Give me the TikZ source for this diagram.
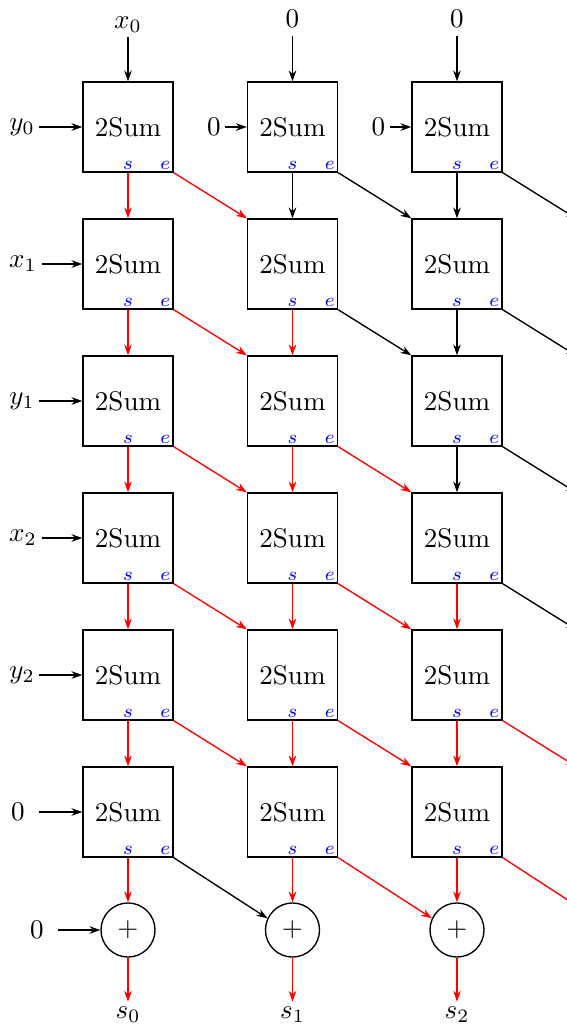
\documentclass[tikz,border=0pt]{standalone}
\usetikzlibrary{arrows.meta}
\begin{document}
\begin{tikzpicture}[x=0.37pt,y=-0.37pt,line width=0.5pt,
  >={Stealth[length=4pt,width=2.8pt,inset=1.3pt]},
  box/.style={draw,minimum size=33.3pt,inner sep=0pt},
  sumc/.style={draw,circle,minimum size=20pt,inner sep=0pt},
  io/.style={inner sep=1.5pt},
  port/.style={text=blue,font=\scriptsize,inner sep=1pt}]
\useasboundingbox (0,0) rectangle (567,1027);
\clip (0,0) rectangle (567,1027);

% boxes and sum circles
\foreach \c/\x in {1/128,2/292.5,3/457} {
  \foreach \r in {1,...,6} {
    \pgfmathsetmacro\y{127+(\r-1)*137}
    \node[box] (b\c\r) at (\x,\y) {2Sum};
    \node[port,anchor=south] (s\c\r) at (b\c\r.south) {$s$};
    \node[port,anchor=south east] (e\c\r) at (b\c\r.south east) {$e$};
  }
  \node[sumc] (p\c) at (\x,930) {$+$};
}

% off-page column
\coordinate (q2) at (577,219);
\coordinate (q3) at (577,356);
\coordinate (q4) at (577,493);
\coordinate (q5) at (577,630);
\coordinate (q6) at (577,767);
\coordinate (q7) at (597,919);

% top inputs
\node[io,anchor=base] (t1) at (128,28) {$x_0$};
\node[io,anchor=base] (t2) at (292.5,27) {$0$};
\node[io,anchor=base] (t3) at (457,27) {$0$};
\draw[->] (t1) -- (b11);
\draw[->,shorten <=1.5pt] (t2) -- (b21);
\draw[->,shorten <=1.5pt] (t3) -- (b31);

% left inputs
\node[io] (l1) at (22,127) {$y_0$};
\node[io] (l2) at (23,264) {$x_1$};
\node[io] (l3) at (22,401) {$y_1$};
\node[io] (l4) at (23,538) {$x_2$};
\node[io] (l5) at (22,675) {$y_2$};
\node[io] (l6) at (18,812) {$0$};
\foreach \r in {1,...,5} \draw[->] (l\r) -- (b1\r);
\draw[->,shorten <=3.5pt] (l6) -- (b16);
\node[io] (z2) at (214,127) {$0$};
\node[io] (z3) at (378.5,127) {$0$};
\draw[->] (z2) -- (b21);
\draw[->] (z3) -- (b31);
\node[io] (z0) at (37,930) {$0$};
\draw[->,shorten <=3.5pt] (z0) -- (p1);

% vertical s connections
\foreach \c/\r/\n/\col in {1/1/2/red,1/2/3/red,1/3/4/red,1/4/5/red,1/5/6/red,
  2/1/2/black,2/2/3/red,2/3/4/red,2/4/5/red,2/5/6/red,
  3/1/2/black,3/2/3/black,3/3/4/black,3/4/5/red,3/5/6/red}
  \draw[->,\col] (b\c\r.south) -- (b\c\n.north);
\foreach \c in {1,2,3} \draw[->,red] (b\c6.south) -- (p\c.north);

% diagonal e connections
\foreach \c/\d/\r/\n/\col in {1/2/1/2/red,1/2/2/3/red,1/2/3/4/red,1/2/4/5/red,1/2/5/6/red,
  2/3/1/2/black,2/3/2/3/black,2/3/3/4/red,2/3/4/5/red,2/3/5/6/red}
  \draw[->,\col] (b\c\r.south east) -- (b\d\n.north west);
\draw[->] (b16.south east) -- (p2.155);
\draw[->,red] (b26.south east) -- (p3.155);
\foreach \r/\n/\col in {1/2/black,2/3/black,3/4/black,4/5/black,5/6/red}
  \draw[->,\col] (b3\r.south east) -- (q\n);
\draw[->,red] (b36.south east) -- (q7);

% outputs
\node[io,anchor=base] (o1) at (128,1018) {$s_0$};
\node[io,anchor=base] (o2) at (292.5,1018) {$s_1$};
\node[io,anchor=base] (o3) at (457,1018) {$s_2$};
\foreach \c in {1,2,3} \draw[->,red] (p\c) -- (o\c);
\end{tikzpicture}
\end{document}
